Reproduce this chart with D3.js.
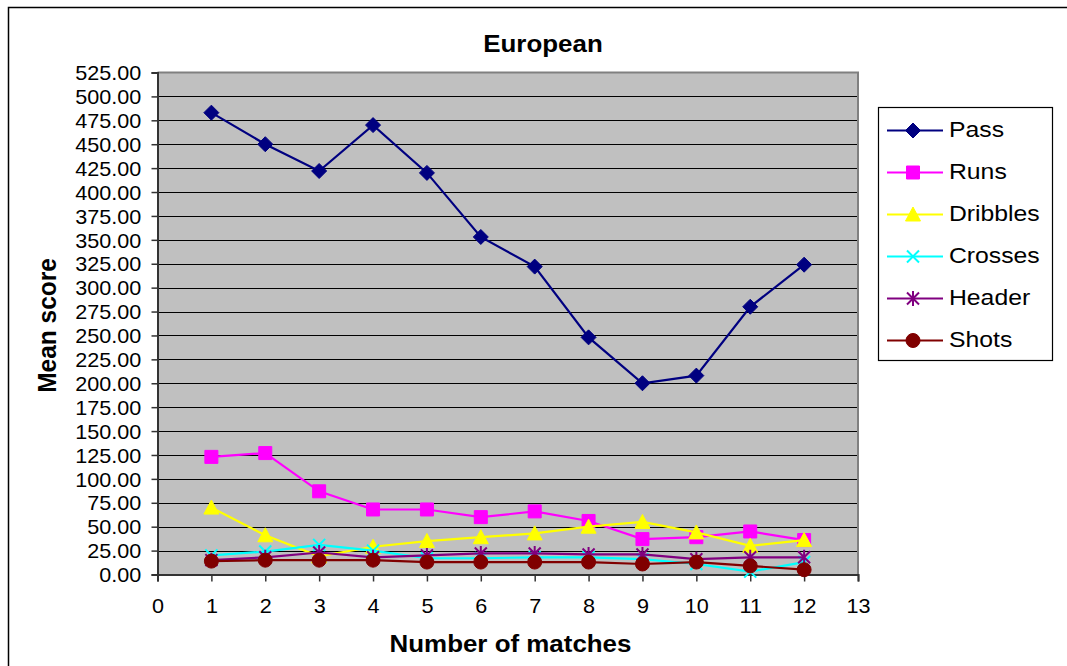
<!DOCTYPE html>
<html>
<head>
<meta charset="utf-8">
<script src="https://cdn.jsdelivr.net/npm/d3@7"></script>
<style>
  body { margin: 0; background: #fff; }
  svg { display: block; }
  text { font-family: "Liberation Sans", Arial, sans-serif; fill: #000; }
</style>
</head>
<body>
<svg id="chart" width="1067" height="666"></svg>
<script>
// Mean score per match number, European sample
const matches  = [1, 2, 3, 4, 5, 6, 7, 8, 9, 10, 11, 12];
const seriesNames = ["Pass", "Runs", "Dribbles", "Crosses", "Header", "Shots"];
const pass     = [483, 450, 422, 470, 420, 353, 322, 248, 200, 208, 280, 324];
const runs     = [123, 127, 87, 68, 68, 60, 66, 56, 37, 39, 45, 36];
const dribbles = [70, 41, 19, 29, 35, 39, 43, 50, 55, 44, 30, 36];
const crosses  = [20, 24, 31, 25, 17, 17, 18, 18, 16, 11, 3, 13];
const header   = [15, 18, 23, 18, 20, 22, 22, 21, 21, 16, 18, 18];
const shots    = [14, 15, 15, 15, 13, 13, 13, 13, 11, 13, 9, 5];
const yTicks   = d3.range(0, 526, 25);
const xTicks   = d3.range(0, 14);

const seriesValues = [pass, runs, dribbles, crosses, header, shots];
const styles = {
  Pass:     { color: "#000080", marker: "diamond" },
  Runs:     { color: "#FF00FF", marker: "square" },
  Dribbles: { color: "#FFFF00", marker: "triangle" },
  Crosses:  { color: "#00FFFF", marker: "cross" },
  Header:   { color: "#800080", marker: "star" },
  Shots:    { color: "#800000", marker: "circle" }
};

const SX = 1.08; // horizontal text stretch
const svg = d3.select("#chart");

// outer chart frame
svg.append("rect")
  .attr("x", 8.5).attr("y", 7.5).attr("width", 1100).attr("height", 700)
  .attr("fill", "#fff").attr("stroke", "#000").attr("stroke-width", 1.5);

const x = d3.scaleLinear().domain([0, 13]).range([157.5, 858]);
const y = d3.scaleLinear().domain([0, 525]).range([574.5, 72.5]);

// plot background
svg.append("rect")
  .attr("x", x(0)).attr("y", y(525))
  .attr("width", x(13) - x(0)).attr("height", y(0) - y(525))
  .attr("fill", "#C0C0C0");

// horizontal gridlines
svg.append("g").selectAll("line")
  .data(yTicks.filter(d => d > 0 && d < 525))
  .join("line")
  .attr("x1", x(0)).attr("x2", x(13))
  .attr("y1", d => Math.round(y(d)) + 0.5).attr("y2", d => Math.round(y(d)) + 0.5)
  .attr("stroke", "#000").attr("stroke-width", 1.2);

// plot border top/right
svg.append("path")
  .attr("d", `M${x(0)},${y(525)}H${x(13)}V${y(0)}`)
  .attr("fill", "none").attr("stroke", "#808080").attr("stroke-width", 2);

// axes
const yAxis = svg.append("g")
  .attr("transform", `translate(${x(0)},0)`)
  .call(d3.axisLeft(y).tickValues(yTicks).tickFormat(d3.format(".2f")).tickSize(6).tickPadding(9));
const xAxis = svg.append("g")
  .attr("transform", `translate(0,${y(0)})`)
  .call(d3.axisBottom(x).tickValues(xTicks).tickFormat(d3.format("d")).tickSize(7).tickPadding(17));

[yAxis, xAxis].forEach(g => {
  g.select(".domain").attr("stroke", "#333").attr("stroke-width", 2);
  g.selectAll(".tick line").attr("stroke", "#333").attr("stroke-width", 1.5);
  g.selectAll(".tick text")
    .attr("font-size", 20)
    .attr("font-family", "'Liberation Sans', Arial, sans-serif")
    .attr("fill", "#000")
    .attr("transform", `scale(${SX},1)`);
});
yAxis.selectAll(".tick text").attr("dy", "0.36em");

// marker shapes
function markerPath(type) {
  switch (type) {
    case "diamond":  return "M0,-7.5L7.5,0L0,7.5L-7.5,0Z";
    case "square":   return "M-6.5,-6.5H6.5V6.5H-6.5Z";
    case "triangle": return "M0,-7.5L7.5,6.5H-7.5Z";
    case "cross":    return "M-6,-6L6,6M6,-6L-6,6";
    case "star":     return "M-6,-6L6,6M6,-6L-6,6M0,-7.5V7.5";
    case "circle":   return d3.symbol(d3.symbolCircle, 154)();
  }
}
function drawMarker(sel, type, color) {
  const open = type === "cross" || type === "star";
  sel.append("path")
    .attr("d", markerPath(type))
    .attr("fill", open ? "none" : color)
    .attr("stroke", color)
    .attr("stroke-width", open ? 2 : 1);
}

const line = d3.line().x(d => x(d.m)).y(d => y(d.v));

seriesNames.forEach((name, i) => {
  const st = styles[name];
  const pts = matches.map((m, j) => ({ m, v: seriesValues[i][j] }));
  const g = svg.append("g");
  g.append("path").datum(pts)
    .attr("d", line).attr("fill", "none")
    .attr("stroke", st.color).attr("stroke-width", 2.2);
  pts.forEach(p => {
    const mg = g.append("g").attr("transform", `translate(${x(p.m)},${y(p.v)})`);
    drawMarker(mg, st.marker, st.color);
  });
});

// titles
svg.append("text")
  .attr("transform", `translate(543,52) scale(${SX},1)`)
  .attr("text-anchor", "middle").attr("font-size", 24).attr("font-weight", "bold")
  .text("European");
svg.append("text")
  .attr("transform", `translate(510.5,652) scale(${SX},1)`)
  .attr("text-anchor", "middle").attr("font-size", 24).attr("font-weight", "bold")
  .text("Number of matches");
svg.append("text")
  .attr("transform", `translate(56,325.5) scale(${SX},1) rotate(-90)`)
  .attr("text-anchor", "middle").attr("font-size", 24.5).attr("font-weight", "bold")
  .text("Mean score");

// legend
const legend = svg.append("g");
legend.append("rect")
  .attr("x", 878.5).attr("y", 107.5).attr("width", 174).attr("height", 253)
  .attr("fill", "#fff").attr("stroke", "#000").attr("stroke-width", 1.2);
seriesNames.forEach((name, i) => {
  const st = styles[name];
  const ly = 130.5 + i * 42;
  const row = legend.append("g").attr("transform", `translate(0,${ly})`);
  row.append("line").attr("x1", 887).attr("x2", 943)
    .attr("stroke", st.color).attr("stroke-width", 2.2);
  drawMarker(row.append("g").attr("transform", "translate(913,0)"), st.marker, st.color);
  row.append("text")
    .attr("transform", `translate(949,6) scale(1.1,1)`)
    .attr("font-size", 22.5)
    .text(name);
});
</script>
</body>
</html>
